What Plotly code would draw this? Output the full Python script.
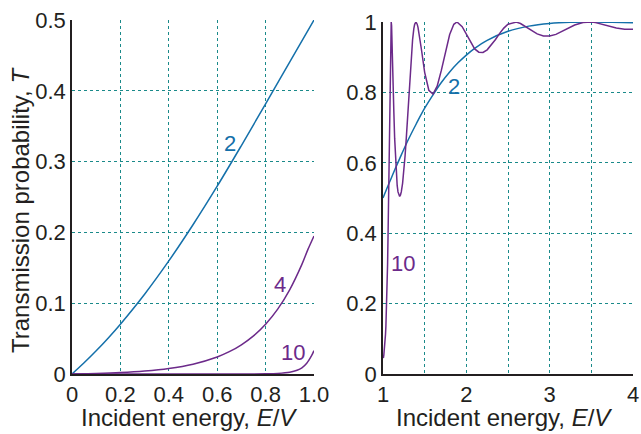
import plotly.graph_objects as go

# ---- data ----
# Left panel: E/V < 1
l2_x = [0, 0.05, 0.1, 0.15, 0.2, 0.3, 0.4, 0.5, 0.6, 0.7, 0.8, 0.9, 1.0]
l2_y = [0, 0.0158, 0.0328, 0.051, 0.0704, 0.1127, 0.1597, 0.2108, 0.2653, 0.3227, 0.3815, 0.441, 0.5]

l4_x = [0, 0.05, 0.1, 0.2, 0.3, 0.4, 0.5, 0.6, 0.65, 0.7, 0.75, 0.8, 0.85, 0.9, 0.95, 0.975, 1.0]
l4_y = [0, 0.0003, 0.0007, 0.002, 0.0042, 0.0078, 0.0139, 0.0241, 0.0315, 0.0413, 0.0539, 0.0704, 0.0917, 0.1193, 0.1548, 0.176, 0.195]

l10_x = [0, 0.5, 0.6, 0.7, 0.8, 0.85, 0.9, 0.93, 0.95, 0.97, 0.99, 1.0]
l10_y = [0, 0.000003, 0.000012, 0.000059, 0.00033, 0.00088, 0.0026, 0.0053, 0.0088, 0.0153, 0.0260, 0.033]

# Right panel: E/V > 1
r2_x = [1.0, 1.05, 1.1, 1.15, 1.2, 1.3, 1.4, 1.5, 1.6, 1.7, 1.8, 1.9, 2.0, 2.1, 2.25, 2.5, 2.75, 3.0, 3.25, 3.5, 3.75, 4.0]
r2_y = [0.5, 0.529, 0.557, 0.585, 0.612, 0.664, 0.711, 0.755, 0.793, 0.828, 0.858, 0.884, 0.906, 0.925, 0.948, 0.9736, 0.9883, 0.996, 0.9993, 1.0, 0.9993, 0.9979]

r10_x = [1.0, 1.005, 1.01, 1.015, 1.02, 1.025, 1.03, 1.035, 1.04, 1.045, 1.05, 1.055, 1.06,
         1.065, 1.07, 1.075, 1.08, 1.085, 1.09, 1.095, 1.0987, 1.103, 1.11, 1.115, 1.12,
         1.13, 1.14, 1.15, 1.16, 1.17, 1.18, 1.19, 1.2, 1.21, 1.22, 1.235, 1.25, 1.265,
         1.28, 1.295, 1.31, 1.325, 1.34, 1.355, 1.37, 1.38, 1.395, 1.41, 1.42, 1.44, 1.46,
         1.5, 1.55, 1.6, 1.65, 1.7, 1.75, 1.8, 1.85, 1.888, 1.95, 2.0, 2.05, 2.1, 2.15,
         2.2, 2.25, 2.3, 2.35, 2.4, 2.45, 2.5, 2.58, 2.6, 2.65, 2.7, 2.775, 2.85, 2.925,
         3.0, 3.075, 3.15, 3.225, 3.3, 3.4, 3.47, 3.5, 3.55, 3.65, 3.725, 3.8, 3.9, 4.0]
r10_y = [0.05, 0.0454, 0.054, 0.0644, 0.0772, 0.093, 0.1126, 0.137, 0.1675, 0.2056, 0.2533, 0.312, 0.3848,
         0.471, 0.5686, 0.678, 0.7846, 0.8798, 0.9517, 0.9915, 1.0, 0.99, 0.9417, 0.8938, 0.8434,
         0.7458, 0.6686, 0.6069, 0.5645, 0.5356, 0.5173, 0.5067, 0.5044, 0.5084, 0.518, 0.5418, 0.5762, 0.62,
         0.6718, 0.729, 0.788, 0.85, 0.9059, 0.9497, 0.981, 0.9933, 1.0, 0.9938, 0.985, 0.9566, 0.924,
         0.857, 0.806, 0.7953, 0.8177, 0.8625, 0.9162, 0.9644, 0.9934, 1.0, 0.9867, 0.9643, 0.9416, 0.9235, 0.9142,
         0.9136, 0.921, 0.9341, 0.9504, 0.9677, 0.9827, 0.9935, 1.0, 0.9996, 0.9957, 0.9889, 0.9766, 0.9661, 0.9602,
         0.96, 0.9648, 0.9731, 0.9827, 0.9913, 0.9986, 1.0, 0.9997, 0.9982, 0.9925, 0.9875, 0.9831, 0.9797, 0.9796]

left_xticks = [0, 0.2, 0.4, 0.6, 0.8, 1.0]
left_xtext = ["0", "0.2", "0.4", "0.6", "0.8", "1.0"]
left_yticks = [0, 0.1, 0.2, 0.3, 0.4, 0.5]
left_ytext = ["0", "0.1", "0.2", "0.3", "0.4", "0.5"]
right_xticks = [1, 1.5, 2, 2.5, 3, 3.5, 4]
right_xtext = ["1", "", "2", "", "3", "", "4"]
right_yticks = [0, 0.2, 0.4, 0.6, 0.8, 1.0]
right_ytext = ["0", "0.2", "0.4", "0.6", "0.8", "1"]

BLUE = "#1470aa"
PURPLE = "#6c2a8a"
GRID = "#1a8a8a"
TXT = "#231f20"
FONT = "Liberation Sans, Arial, sans-serif"

fig = go.Figure()
fig.add_trace(go.Scatter(x=l2_x, y=l2_y, mode="lines", line=dict(color=BLUE, width=1.5, shape="spline"), xaxis="x", yaxis="y"))
fig.add_trace(go.Scatter(x=l4_x, y=l4_y, mode="lines", line=dict(color=PURPLE, width=1.5, shape="spline"), xaxis="x", yaxis="y"))
fig.add_trace(go.Scatter(x=l10_x, y=l10_y, mode="lines", line=dict(color=PURPLE, width=1.5, shape="spline"), xaxis="x", yaxis="y"))
fig.add_trace(go.Scatter(x=r2_x, y=r2_y, mode="lines", line=dict(color=BLUE, width=1.5, shape="spline"), xaxis="x2", yaxis="y2"))
fig.add_trace(go.Scatter(x=r10_x, y=r10_y, mode="lines", line=dict(color=PURPLE, width=1.5), xaxis="x2", yaxis="y2"))

axis_common = dict(showgrid=True, gridcolor=GRID, griddash="dot", gridwidth=1,
                   zeroline=False, showline=True, linecolor=TXT, linewidth=1.5,
                   ticks="", automargin=False,
                   tickfont=dict(family=FONT, size=22, color=TXT), fixedrange=True)

fig.update_layout(
    width=641, height=434,
    margin=dict(l=0, r=0, t=0, b=0, autoexpand=False),
    paper_bgcolor="white", plot_bgcolor="white",
    showlegend=False,
    font=dict(family=FONT, color=TXT),
    xaxis=dict(axis_common, domain=[72/641, 314/641], range=[0, 1.0], tickvals=left_xticks, ticktext=left_xtext, anchor="y"),
    yaxis=dict(axis_common, domain=[60/434, 414/434], range=[0, 0.5], tickvals=left_yticks, ticktext=left_ytext, anchor="x"),
    xaxis2=dict(axis_common, domain=[383/641, 633/641], range=[1, 4], tickvals=right_xticks, ticktext=right_xtext, anchor="y2"),
    yaxis2=dict(axis_common, domain=[60/434, 412/434], range=[0, 1.0], tickvals=right_yticks, ticktext=right_ytext, anchor="x2"),
)

TITLE_FONT = dict(size=24, family=FONT, color=TXT)
ann = []
# axis titles
ann.append(dict(text="Incident energy, <i>E</i>/<i>V</i>", xref="paper", yref="paper", x=189/641, y=(434-417)/434,
                showarrow=False, font=TITLE_FONT, xanchor="center", yanchor="middle"))
ann.append(dict(text="Incident energy, <i>E</i>/<i>V</i>", xref="paper", yref="paper", x=504/641, y=(434-417)/434,
                showarrow=False, font=TITLE_FONT, xanchor="center", yanchor="middle"))
ann.append(dict(text="Transmission probability, <i>T</i>", xref="paper", yref="paper", x=20/641, y=(434-210)/434,
                showarrow=False, textangle=-90, font=TITLE_FONT, xanchor="center", yanchor="middle"))
# curve labels
LBL = 22
ann.append(dict(text="2", x=0.653, y=0.326, xref="x", yref="y", showarrow=False, font=dict(size=LBL, family=FONT, color=BLUE)))
ann.append(dict(text="4", x=0.86, y=0.126, xref="x", yref="y", showarrow=False, font=dict(size=LBL, family=FONT, color=PURPLE)))
ann.append(dict(text="10", x=0.913, y=0.03, xref="x", yref="y", showarrow=False, font=dict(size=LBL, family=FONT, color=PURPLE)))
ann.append(dict(text="2", x=1.85, y=0.818, xref="x2", yref="y2", showarrow=False, font=dict(size=LBL, family=FONT, color=BLUE)))
ann.append(dict(text="10", x=1.24, y=0.315, xref="x2", yref="y2", showarrow=False, font=dict(size=LBL, family=FONT, color=PURPLE)))
fig.update_layout(annotations=ann)

fig.write_html("out.html", config={"displayModeBar": False},
               post_script="document.body.style.margin='0';document.body.style.overflow='hidden';")
